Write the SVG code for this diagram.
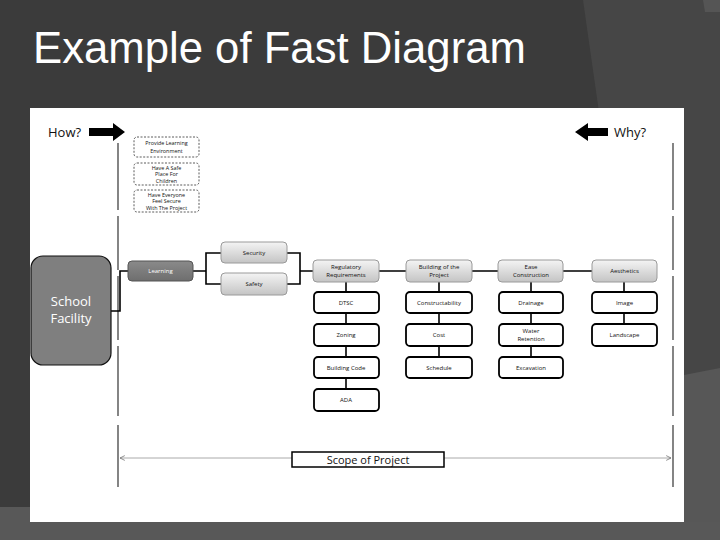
<svg xmlns="http://www.w3.org/2000/svg" width="720" height="540" viewBox="0 0 720 540">
<defs>
<linearGradient id="lg" x1="0" y1="0" x2="0" y2="1"><stop offset="0" stop-color="#f4f4f4"/><stop offset="1" stop-color="#c4c4c4"/></linearGradient>
<linearGradient id="dg" x1="0" y1="0" x2="0" y2="1"><stop offset="0" stop-color="#8a8a8a"/><stop offset="1" stop-color="#6e6e6e"/></linearGradient>
<marker id="oa" viewBox="0 0 10 10" refX="9" refY="5" markerWidth="6" markerHeight="6" orient="auto-start-reverse"><path d="M1,1 L9,5 L1,9" fill="none" stroke="#666" stroke-width="1.2"/></marker>
<style>
.t{font-family:"Open Sans","Liberation Sans",sans-serif;fill:#111;text-anchor:middle}
.s{font-size:6px}
.xs{font-size:5.4px}
.gbox{fill:url(#lg);stroke:#9a9a9a;stroke-width:1}
.wbox{fill:#fff;stroke:#000;stroke-width:1.8}
.dbox{fill:#fff;stroke:#333;stroke-width:0.8;stroke-dasharray:2 1.5}
.c{fill:none;stroke:#000;stroke-width:1.6}
.v{fill:none;stroke:#222;stroke-width:1.1}
</style>
</defs>
<rect width="720" height="540" fill="#3b3b3b"/>
<polygon points="583,0 720,0 720,540 660,540" fill="#464646"/>
<polygon points="684,375 720,368 720,540 684,540" fill="#575757"/>
<polygon points="0,507 30,507 30,540 0,540" fill="#585858"/>
<polygon points="30,522 720,522 720,540 30,540" fill="#585858"/>
<polygon points="703,0 720,0 720,12 705,12" fill="#555"/>
<text x="33" y="63" font-family="Liberation Sans, Arial, sans-serif" font-size="43.7" fill="#fff">Example of Fast Diagram</text>
<rect x="30" y="108" width="654" height="414" fill="#fff"/>

<g id="how">
<text x="48" y="137" font-family="Open Sans, sans-serif" font-size="13" fill="#111">How?</text>
<polygon points="89,128 113,128 113,123 125,132 113,141 113,136 89,136" fill="#000"/>
</g>
<g id="why">
<text x="614" y="137" font-family="Open Sans, sans-serif" font-size="13" fill="#111">Why?</text>
<polygon points="608,128 588,128 588,123 575,132 588,141 588,136 608,136" fill="#000"/>
</g>

<g id="connectors">
<path class="v" d="M118,143V210M118,216V270M118,276V340M118,346V416M118,425V487"/>
<path class="v" d="M673,143V210M673,216V270M673,276V340M673,346V416M673,425V487"/>
<path class="c" d="M111,311H120V271H128"/>
<path class="c" d="M193,271H206M221,253H206V284H221"/>
<path class="c" d="M287,253H300V284H287M300,271H313"/>
<path class="c" d="M379,271H406M472,271H498M563,271H592"/>
<path class="c" d="M346,282V292M346,313V324M346,346V357M346,378V389"/>
<path class="c" d="M439,282V292M439,313V324M439,346V357"/>
<path class="c" d="M531,282V292M531,313V324M531,346V357"/>
<path class="c" d="M624,282V292M624,313V324"/>
<path d="M120,458H292M444,458H671" fill="none" stroke="#aaa" stroke-width="1" marker-start="url(#oa)" marker-end="url(#oa)"/>
</g>

<g id="provide"><rect class="dbox" x="134" y="137" width="65" height="20" rx="3"/><text class="t xs"><tspan x="166.5" y="145">Provide Learning</tspan><tspan x="166.5" y="152.5">Environment</tspan></text></g>
<g id="safeplace"><rect class="dbox" x="134" y="163" width="65" height="22" rx="3"/><text class="t xs"><tspan x="166.5" y="169.5">Have A Safe</tspan><tspan x="166.5" y="176">Place For</tspan><tspan x="166.5" y="182.5">Children</tspan></text></g>
<g id="secure"><rect class="dbox" x="134" y="190" width="65" height="22" rx="3"/><text class="t xs"><tspan x="166.5" y="196.5">Have Everyone</tspan><tspan x="166.5" y="203">Feel Secure</tspan><tspan x="166.5" y="209.5">With The Project</tspan></text></g>

<g id="school"><rect x="31" y="256" width="80" height="109" rx="12" fill="#7f7f7f" stroke="#111" stroke-width="1.2"/><text class="t" font-size="13" style="fill:#fff"><tspan x="71" y="306">School</tspan><tspan x="71" y="323">Facility</tspan></text></g>
<g id="learning"><rect x="128" y="261" width="65" height="20" rx="4" fill="url(#dg)" stroke="#555"/><text class="t s" x="160.5" y="273" style="fill:#fff">Learning</text></g>
<g id="security"><rect class="gbox" x="221" y="242" width="66" height="21" rx="4"/><text class="t s" x="254" y="255">Security</text></g>
<g id="safety"><rect class="gbox" x="221" y="273" width="66" height="22" rx="4"/><text class="t s" x="254" y="286">Safety</text></g>

<g id="regulatory"><rect class="gbox" x="313" y="260" width="66" height="22" rx="4"/><text class="t s"><tspan x="346" y="269">Regulatory</tspan><tspan x="346" y="277">Requirements</tspan></text></g>
<g id="building"><rect class="gbox" x="406" y="260" width="66" height="22" rx="4"/><text class="t s"><tspan x="439" y="269">Building of the</tspan><tspan x="439" y="277">Project</tspan></text></g>
<g id="ease"><rect class="gbox" x="498" y="260" width="65" height="22" rx="4"/><text class="t s"><tspan x="531" y="269">Ease</tspan><tspan x="531" y="277">Construction</tspan></text></g>
<g id="aesthetics"><rect class="gbox" x="592" y="260" width="65" height="22" rx="4"/><text class="t s" x="624.5" y="273">Aesthetics</text></g>

<g id="dtsc"><rect class="wbox" x="314" y="292" width="65" height="21" rx="4"/><text class="t s" x="346" y="305">DTSC</text></g>
<g id="zoning"><rect class="wbox" x="314" y="324" width="65" height="22" rx="4"/><text class="t s" x="346" y="337">Zoning</text></g>
<g id="buildingcode"><rect class="wbox" x="314" y="357" width="65" height="21" rx="4"/><text class="t s" x="346" y="370">Building Code</text></g>
<g id="ada"><rect class="wbox" x="314" y="389" width="65" height="22" rx="4"/><text class="t s" x="346" y="402">ADA</text></g>

<g id="constructability"><rect class="wbox" x="406" y="292" width="66" height="21" rx="4"/><text class="t s" x="439" y="305">Constructability</text></g>
<g id="cost"><rect class="wbox" x="406" y="324" width="66" height="22" rx="4"/><text class="t s" x="439" y="337">Cost</text></g>
<g id="schedule"><rect class="wbox" x="406" y="357" width="66" height="21" rx="4"/><text class="t s" x="439" y="370">Schedule</text></g>

<g id="drainage"><rect class="wbox" x="499" y="292" width="64" height="21" rx="4"/><text class="t s" x="531" y="305">Drainage</text></g>
<g id="water"><rect class="wbox" x="499" y="324" width="64" height="22" rx="4"/><text class="t s"><tspan x="531" y="333">Water</tspan><tspan x="531" y="341">Retention</tspan></text></g>
<g id="excavation"><rect class="wbox" x="499" y="357" width="64" height="21" rx="4"/><text class="t s" x="531" y="370">Excavation</text></g>

<g id="image"><rect class="wbox" x="592" y="292" width="65" height="21" rx="4"/><text class="t s" x="624.5" y="305">Image</text></g>
<g id="landscape"><rect class="wbox" x="592" y="324" width="65" height="22" rx="4"/><text class="t s" x="624.5" y="337">Landscape</text></g>

<g id="scope"><rect x="292" y="452" width="152" height="15" fill="#fff" stroke="#000" stroke-width="1.5"/><text class="t" x="368" y="463.5" font-size="11">Scope of Project</text></g>
</svg>
